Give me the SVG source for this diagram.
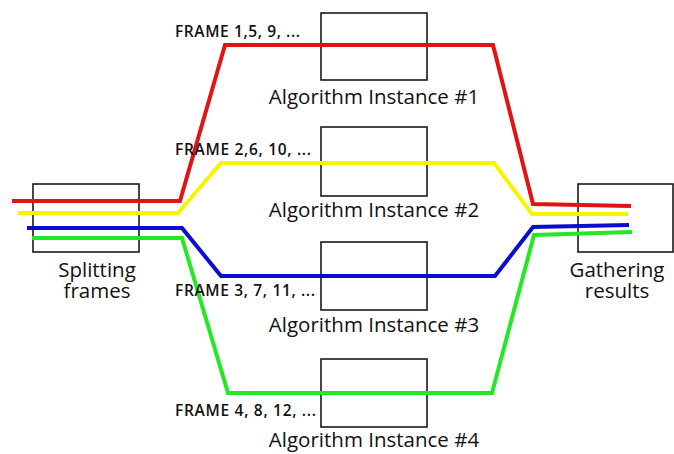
<svg xmlns="http://www.w3.org/2000/svg" width="674" height="454" viewBox="0 0 674 454">
<style>
.box{fill:none;stroke:#1a1a1a;stroke-width:1.6}
.ln{fill:none;stroke-width:4;stroke-linejoin:miter}
.big{font-family:"Open Sans","Liberation Sans",sans-serif;font-size:20.5px;fill:#111}
.lbl{font-family:"Open Sans","Liberation Sans",sans-serif;font-size:15.5px;font-weight:600;fill:#111}
</style>
<rect width="674" height="454" fill="#fff"/>
<g id="split"><rect class="box" x="33" y="184" width="106" height="68"/>
<text class="big" x="97" y="277" text-anchor="middle">Splitting</text>
<text class="big" x="97" y="298" text-anchor="middle">frames</text></g>
<g id="gather"><rect class="box" x="578" y="184" width="95" height="68"/>
<text class="big" x="617" y="277" text-anchor="middle">Gathering</text>
<text class="big" x="617" y="298" text-anchor="middle">results</text></g>
<g id="inst1"><rect class="box" x="321" y="13" width="106" height="67"/>
<text class="big" x="374" y="104" text-anchor="middle">Algorithm Instance #1</text></g>
<g id="inst2"><rect class="box" x="321" y="127" width="106" height="69"/>
<text class="big" x="374" y="217" text-anchor="middle">Algorithm Instance #2</text></g>
<g id="inst3"><rect class="box" x="321" y="242" width="106" height="68"/>
<text class="big" x="374" y="332" text-anchor="middle">Algorithm Instance #3</text></g>
<g id="inst4"><rect class="box" x="321" y="359" width="106" height="68"/>
<text class="big" x="374" y="447" text-anchor="middle">Algorithm Instance #4</text></g>
<g id="connectors">
<path class="ln" stroke="#e01414" d="M12,201 L180,201 L225,45 L493,45 L533,204 L631,206"/>
<path class="ln" stroke="#f8f400" d="M18,213 L178,213 L221,163 L494,163 L532,214 L628,214"/>
<path class="ln" stroke="#0c0cd0" d="M27,228 L182,228 L221,276 L495,276 L533,227 L629,225"/>
<path class="ln" stroke="#24e824" d="M32,238 L182,238 L228,393 L492,393 L534,235 L632,232"/>
</g>
<g id="labels">
<text class="lbl" x="175" y="37" textLength="125">FRAME 1,5, 9, ...</text>
<text class="lbl" x="175" y="155" textLength="136">FRAME 2,6, 10, ...</text>
<text class="lbl" x="175" y="296" textLength="140">FRAME 3, 7, 11, ...</text>
<text class="lbl" x="175" y="416" textLength="141">FRAME 4, 8, 12, ...</text>
</g>
</svg>
